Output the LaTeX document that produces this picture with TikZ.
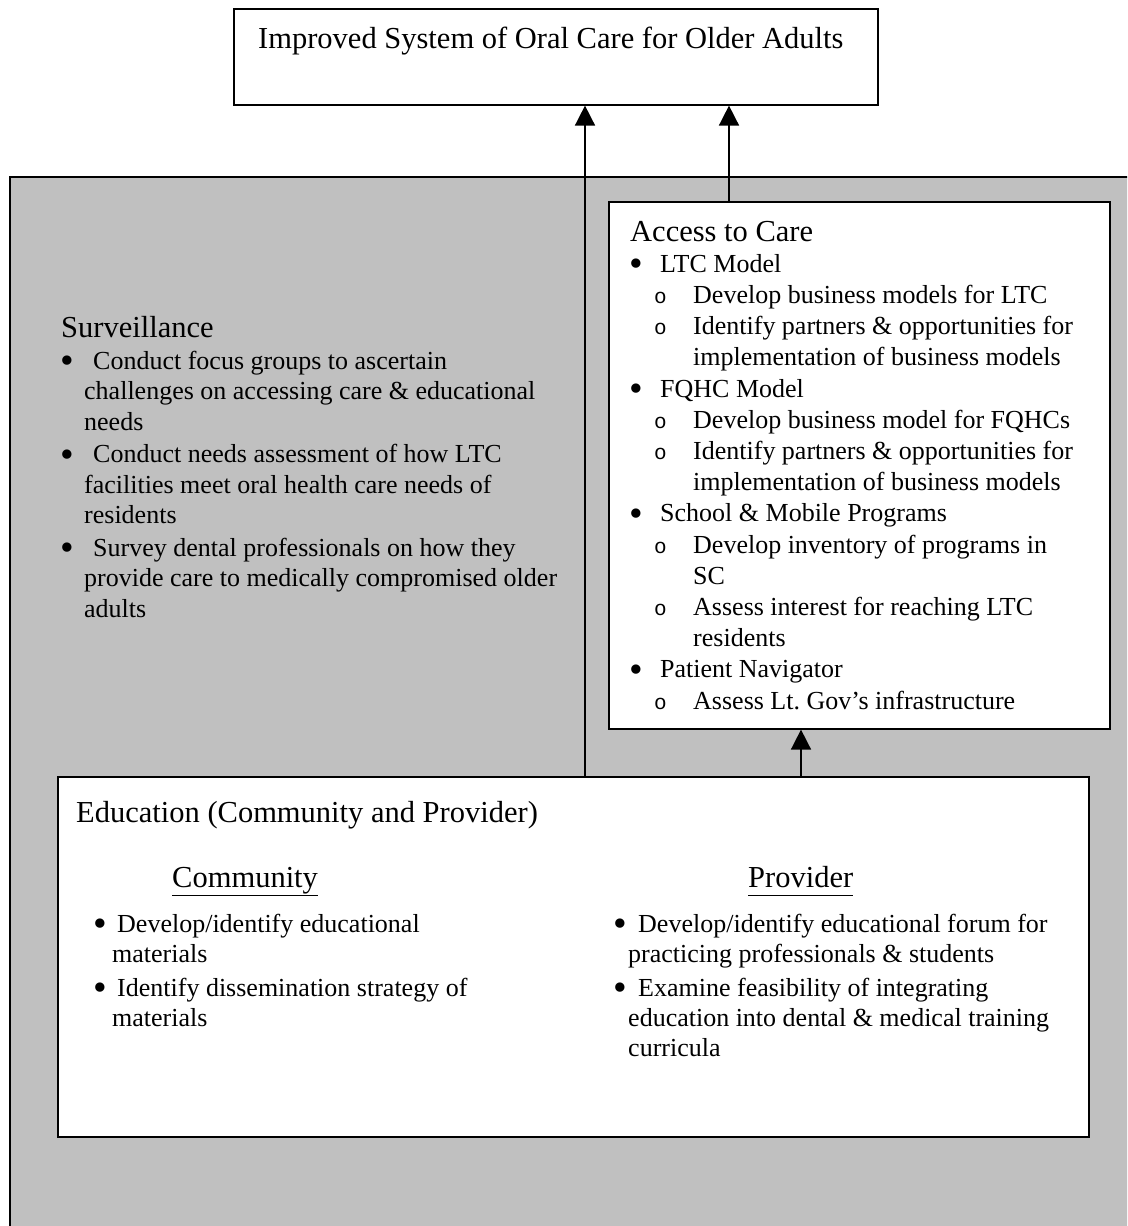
\documentclass[tikz,border=0pt]{standalone}
\usepackage{fontspec}
\setmainfont{Liberation Serif}
\setmonofont{Liberation Mono}
\usetikzlibrary{arrows.meta}

\newcommand\headfont{\fontsize{30.5}{36}\selectfont}
\newcommand\bodyfont{\fontsize{26}{30.5}\selectfont}
% bullet at offset #1, text #2 further on
\newcommand\bl[2]{\hspace*{#1}\makebox[#2][l]{\raisebox{-4.5pt}{\scalebox{1.5}{\textbullet}}}}
\newcommand\sbl[2]{\hspace*{#1}\makebox[#2][l]{\fontsize{21}{21}\ttfamily o}}

\begin{document}
\begin{tikzpicture}[x=1pt,y=-1pt,
    box/.style={draw=black,line width=1.6pt,fill=white,inner sep=0pt,anchor=north west},
    txt/.style={inner sep=0pt,anchor=base west,align=left,font=\bodyfont},
    arrow/.style={line width=1.6pt,-{Triangle[width=20pt,length=20pt]}}]
\path[use as bounding box] (0,0) rectangle (1127,1226);
\clip (0,0) rectangle (1127,1226);

% Drawing goal box
\node[box,minimum width=644pt,minimum height=96pt] (goal) at (233,8) {};
\node[txt,font=\headfont] (goaltxt) at (258,48) {Improved System of Oral Care for Older Adults};

% Drawing grey frame
\definecolor{r192g192b192}{rgb}{0.752941,0.752941,0.752941}%
\node[box,fill=r192g192b192,line width=2pt,minimum width=1300pt,minimum height=1200pt] (frame) at (9,176) {};

% Surveillance (node placed at the baseline of its last line)
\node[txt] (surv) at (61,617) {{\headfont Surveillance}\\[1pt]
\bl{-1pt}{33pt}Conduct focus groups to ascertain\\
\hspace*{23pt}challenges on accessing care \& educational\\
\hspace*{23pt}needs\\[2pt]
\bl{-1pt}{33pt}Conduct needs assessment of how LTC\\
\hspace*{23pt}facilities meet oral health care needs of\\
\hspace*{23pt}residents\\[2pt]
\bl{-1pt}{33pt}Survey dental professionals on how they\\
\hspace*{23pt}provide care to medically compromised older\\
\hspace*{23pt}adults};

% Access to care
\node[box,minimum width=501pt,minimum height=527pt] (access) at (608,201) {};
\node[txt,font=\fontsize{26}{31.2}\selectfont] (acctxt) at (630,709) {{\headfont Access to Care}\\
\bl{-1pt}{31pt}LTC Model\\
\sbl{24pt}{39pt}Develop business models for LTC\\
\sbl{24pt}{39pt}Identify partners \& opportunities for\\
\hspace*{63pt}implementation of business models\\
\bl{-1pt}{31pt}FQHC Model\\
\sbl{24pt}{39pt}Develop business model for FQHCs\\
\sbl{24pt}{39pt}Identify partners \& opportunities for\\
\hspace*{63pt}implementation of business models\\
\bl{-1pt}{31pt}School \& Mobile Programs\\
\sbl{24pt}{39pt}Develop inventory of programs in\\
\hspace*{63pt}SC\\
\sbl{24pt}{39pt}Assess interest for reaching LTC\\
\hspace*{63pt}residents\\
\bl{-1pt}{31pt}Patient Navigator\\
\sbl{24pt}{39pt}Assess Lt.\ Gov’s infrastructure};

% Education
\node[box,minimum width=1031pt,minimum height=360pt] (edu) at (57,776) {};
\node[txt,font=\headfont] (edutxt) at (76,822) {Education (Community and Provider)};
\node[txt,font=\headfont] (commhead) at (172,887) {\underline{Community}};
\node[txt,font=\headfont] (provhead) at (748,887) {\underline{Provider\vphantom{y}}};
\node[txt,font=\fontsize{26}{30}\selectfont] (commlist) at (93,1026) {\bl{0pt}{24pt}Develop/identify educational\\
\hspace*{19pt}materials\\[4pt]
\bl{0pt}{24pt}Identify dissemination strategy of\\
\hspace*{19pt}materials};
\node[txt,font=\fontsize{26}{30}\selectfont] (provlist) at (613,1056) {\bl{0pt}{25pt}Develop/identify educational forum for\\
\hspace*{15pt}practicing professionals \& students\\[4pt]
\bl{0pt}{25pt}Examine feasibility of integrating\\
\hspace*{15pt}education into dental \& medical training\\
\hspace*{15pt}curricula};

% Drawing arrows
\coordinate (lx) at (585,0);
\coordinate (rx) at (729,0);
\coordinate (mx) at (801,0);
\draw[arrow] (edu.north -| lx) -- (goal.south -| lx);
\draw[arrow] (access.north -| rx) -- (goal.south -| rx);
\draw[arrow] (edu.north -| mx) -- (access.south -| mx);
\end{tikzpicture}
\end{document}
